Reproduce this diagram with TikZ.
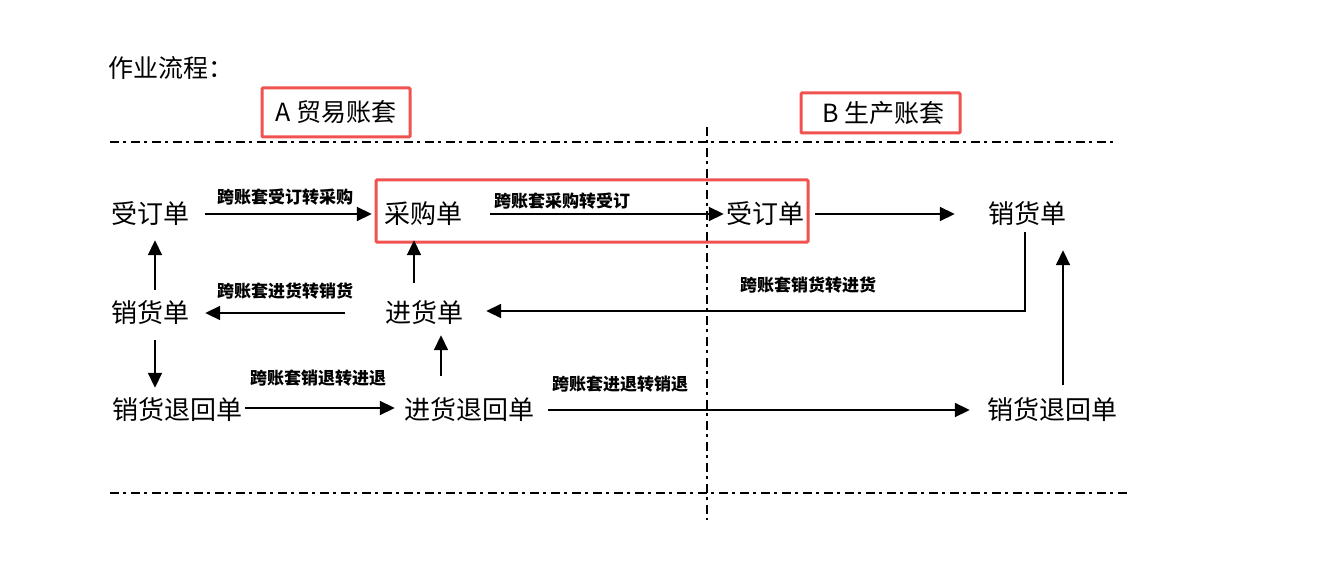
\documentclass[tikz,border=0pt]{standalone}
\usepackage{fontspec}
\setmainfont{Noto Sans CJK SC}
\newfontfamily\cjk{Noto Sans CJK SC}
\usetikzlibrary{arrows.meta}
\definecolor{boxred}{HTML}{F0524F}
\tikzset{
  doc/.style={font=\cjk\fontsize{26}{30}\selectfont, inner sep=0pt, text height=22pt, text depth=4pt},
  lbl/.style={font=\cjk\bfseries\fontsize{17}{20}\selectfont, inner sep=0pt},
  ttl/.style={font=\cjk\fontsize{25}{28}\selectfont, inner sep=0pt},
  arr/.style={line width=1.8pt, -{Triangle[length=15pt,width=14pt]}},
  dashdot/.style={line width=2pt, dash pattern=on 9pt off 4pt on 3pt off 5pt},
  redbox/.style={draw=boxred, line width=3pt, rounded corners=1pt}
}
\begin{document}
\begin{tikzpicture}[x=1pt,y=-1pt]
\useasboundingbox (0,0) rectangle (1318,567);
% titles
\node[ttl, anchor=west] (title) at (108,68) {作业流程：};
\node[ttl, redbox, minimum width=148pt, minimum height=49pt] (boxA) at (336,112.5) {A 贸易账套};
\node[ttl, redbox, minimum width=159pt, minimum height=40pt] (boxB) at (880.5,113) {\ B 生产账套};
% separators
\draw[dashdot] (110,142) -- (1117,142);
\draw[dashdot] (110,493) -- (1130,493);
\draw[dashdot] (707,127) -- (707,520);
% red box around purchase to order
\draw[redbox] (376,180) rectangle (808,242);
% document nodes
\node[doc] (qA) at (150,214) {受订单};
\node[doc] (cg) at (423,214) {采购单};
\node[doc] (qB) at (765,214) {受订单};
\node[doc] (xB) at (1027,214) {销货单};
\node[doc] (xA) at (150,313) {销货单};
\node[doc] (jh) at (424,313) {进货单};
\node[doc] (xtA) at (177,410) {销货退回单};
\node[doc] (jt) at (469,410) {进货退回单};
\node[doc] (xtB) at (1052,410) {销货退回单};
% horizontal arrows
\draw[arr] ([xshift=16pt]qA.east) -- ([xshift=-12pt]cg.west);
\draw[arr] ([xshift=28pt]cg.east) -- ([xshift=-2pt]qB.west);
\draw[arr] ([xshift=11pt]qB.east) -- ([xshift=-33pt]xB.west);
\draw[arr] ([xshift=-2pt,yshift=-5pt]xB.south) |- ([xshift=23pt,yshift=2pt]jh.east);
\draw[arr] ([xshift=-40pt]jh.west) -- ([xshift=16pt]xA.east);
\draw[arr] ([xshift=3pt,yshift=2pt]xtA.east) -- ([xshift=-9pt,yshift=2pt]jt.west);
\draw[arr] ([xshift=14pt]jt.east) -- ([xshift=-17pt]xtB.west);
% vertical arrows
\draw[arr] ([xshift=5pt,yshift=10pt]xA.north) -- ([xshift=5pt,yshift=-13pt]qA.south);
\draw[arr] ([xshift=-10pt,yshift=17pt]jh.north) -- ([xshift=-9pt,yshift=-13pt]cg.south);
\draw[arr] ([xshift=5pt,yshift=-14pt]xA.south) -- ([xshift=-22pt,yshift=9pt]xtA.north);
\draw[arr] ([xshift=-28pt,yshift=21pt]jt.north) -- ([xshift=17pt,yshift=-9pt]jh.south);
\draw[arr] ([xshift=11pt,yshift=12pt]xtB.north) -- ([xshift=36pt,yshift=-23pt]xB.south);
% labels
\node[lbl] (l1) at (285,197) {跨账套受订转采购};
\node[lbl] (l2) at (562,201) {跨账套采购转受订};
\node[lbl] (l3) at (808,285) {跨账套销货转进货};
\node[lbl] (l4) at (285,291) {跨账套进货转销货};
\node[lbl] (l5) at (318,378) {跨账套销退转进退};
\node[lbl] (l6) at (620,384) {跨账套进退转销退};
\end{tikzpicture}
\end{document}
